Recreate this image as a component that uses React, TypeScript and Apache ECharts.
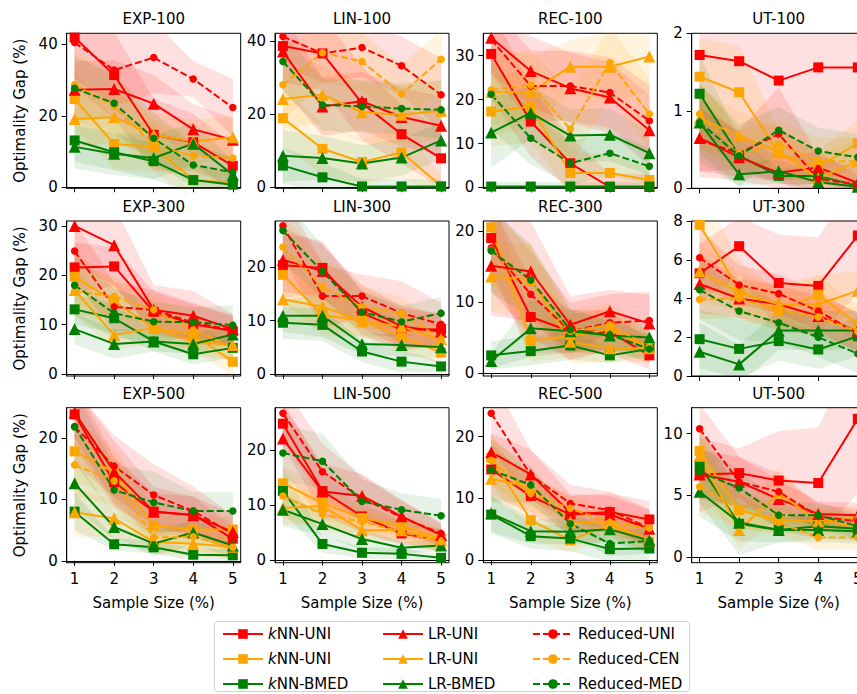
import React, { useEffect, useRef } from 'react';
import * as echarts from 'echarts';

const sampleSizes = [1, 2, 3, 4, 5];
const panelTitles = ['EXP-100', 'LIN-100', 'REC-100', 'UT-100', 'EXP-300', 'LIN-300', 'REC-300', 'UT-300', 'EXP-500', 'LIN-500', 'REC-500', 'UT-500'];
const seriesNames = ['kNN-UNI', 'kNN-CEN', 'kNN-BMED', 'LR-UNI', 'LR-CEN', 'LR-BMED', 'Reduced-UNI', 'Reduced-CEN', 'Reduced-MED'];
const legendLabels = ['{i|k}NN-UNI', '{i|k}NN-UNI', '{i|k}NN-BMED', 'LR-UNI', 'LR-UNI', 'LR-BMED', 'Reduced-UNI', 'Reduced-CEN', 'Reduced-MED'];

// series order: kNN-UNI, kNN-CEN, kNN-BMED, LR-UNI, LR-CEN, LR-BMED, Reduced-UNI, Reduced-CEN, Reduced-MED
const exp100Mean = [
  [41.9, 31.4, 14.7, 12.6, 6.0], [24.7, 12.1, 11.3, 2.0, 1.3], [13.1, 9.8, 7.3, 2.0, 0.7],
  [27.3, 27.5, 23.4, 16.2, 13.3], [19.1, 19.6, 14.7, 12.8, 14.0], [11.3, 9.4, 8.2, 12.2, 3.5],
  [40.5, 32.8, 36.3, 30.3, 22.3], [28.7, 22.6, 11.8, 8.8, 8.2], [27.7, 23.5, 13.7, 6.2, 4.2],
];
const lin100Mean = [
  [38.6, 36.6, 23.0, 14.5, 7.9], [18.9, 10.5, 6.9, 9.5, 0.3], [5.9, 2.7, 0.2, 0.2, 0.2],
  [37.1, 22.1, 23.5, 19.2, 16.8], [24.1, 25.3, 20.5, 19.8, 20.9], [8.6, 8.0, 6.5, 8.1, 12.8],
  [41.2, 36.6, 38.2, 33.2, 25.3], [28.0, 36.8, 34.4, 25.5, 35.0], [34.4, 22.5, 22.1, 21.5, 21.2],
];
const rec100Mean = [
  [30.4, 15.0, 5.5, 0.1, 0.1], [17.3, 18.4, 3.3, 3.3, 1.7], [0.2, 0.2, 0.2, 0.2, 0.2],
  [34.1, 26.5, 22.6, 20.5, 13.0], [21.8, 21.7, 27.5, 27.5, 29.8], [12.5, 17.0, 11.8, 12.0, 7.8],
  [33.7, 23.1, 23.1, 21.6, 15.2], [22.2, 23.3, 13.3, 28.4, 16.7], [21.2, 11.2, 5.5, 7.8, 4.8],
];
const ut100Mean = [
  [1.72, 1.64, 1.39, 1.56, 1.56], [1.44, 1.24, 0.45, 0.28, 0.58], [1.22, 0.42, 0.16, 0.16, 0.03],
  [0.65, 0.4, 0.2, 0.27, 0.07], [0.9, 0.68, 0.47, 0.13, 0.35], [0.85, 0.18, 0.22, 0.08, 0.02],
  [0.62, 0.45, 0.7, 0.12, 0.05], [0.96, 0.45, 0.57, 0.35, 0.35], [0.85, 0.42, 0.75, 0.48, 0.4],
];
const exp300Mean = [
  [21.6, 21.8, 12.6, 10.1, 8.7], [19.7, 14.7, 9.3, 8.0, 2.5], [13.1, 11.3, 6.6, 4.0, 5.3],
  [30.0, 26.1, 13.0, 11.8, 9.1], [17.0, 7.9, 9.3, 6.6, 5.9], [9.1, 6.1, 6.6, 6.1, 8.0],
  [24.9, 13.6, 13.0, 10.4, 8.9], [16.8, 15.7, 13.0, 8.9, 5.5], [18.0, 12.3, 10.6, 10.5, 9.9],
];
const lin300Mean = [
  [20.4, 19.9, 11.4, 8.3, 8.4], [18.6, 11.0, 10.0, 7.0, 4.0], [9.6, 9.2, 4.2, 2.3, 1.4],
  [21.4, 19.3, 12.6, 8.9, 7.9], [14.0, 12.6, 9.9, 8.9, 6.5], [10.9, 10.9, 5.6, 5.4, 5.0],
  [27.8, 14.6, 14.6, 11.4, 9.3], [23.8, 16.3, 12.6, 11.4, 6.5], [26.9, 19.2, 11.6, 9.8, 11.4],
];
const rec300Mean = [
  [19.0, 7.9, 5.9, 5.8, 2.5], [20.5, 4.6, 5.2, 6.2, 3.5], [2.5, 3.1, 3.9, 2.5, 3.4],
  [15.1, 14.3, 6.8, 8.7, 7.0], [13.6, 13.1, 4.4, 3.5, 3.5], [1.7, 6.3, 5.9, 5.3, 5.0],
  [17.6, 11.1, 5.9, 7.1, 7.4], [17.3, 13.0, 5.9, 6.8, 3.7], [17.2, 13.1, 6.1, 5.4, 3.4],
];
const ut300Mean = [
  [5.3, 6.7, 4.8, 4.65, 7.25], [7.8, 4.45, 3.35, 4.2, 2.65], [1.9, 1.4, 1.8, 1.37, 2.05],
  [4.75, 4.0, 3.7, 3.1, 2.3], [5.4, 4.3, 3.7, 3.7, 4.4], [1.25, 0.6, 2.35, 2.35, 2.35],
  [6.1, 4.7, 4.25, 3.35, 2.2], [3.95, 4.0, 3.4, 3.05, 2.3], [4.45, 3.35, 2.75, 2.0, 1.15],
];
const exp500Mean = [
  [23.8, 12.8, 8.0, 7.5, 3.6], [17.8, 14.4, 5.7, 5.1, 5.1], [8.0, 2.7, 2.2, 1.0, 0.9],
  [24.1, 14.5, 8.0, 7.4, 4.7], [7.9, 6.9, 3.1, 2.8, 2.3], [12.6, 5.5, 2.8, 4.6, 2.5],
  [21.8, 15.4, 10.7, 8.1, 4.4], [15.6, 13.0, 3.8, 3.9, 2.2], [21.8, 11.5, 9.5, 8.1, 8.1],
];
const lin500Mean = [
  [24.8, 12.6, 8.0, 4.9, 3.7], [14.0, 10.4, 7.7, 6.3, 3.9], [12.6, 3.0, 1.4, 1.2, 0.5],
  [22.1, 12.5, 11.7, 8.0, 4.6], [9.5, 9.9, 5.5, 5.5, 3.6], [9.2, 6.6, 3.9, 2.3, 2.7],
  [26.7, 16.1, 11.3, 7.8, 4.9], [11.7, 8.4, 7.0, 5.2, 3.4], [19.5, 18.0, 10.7, 9.2, 8.1],
];
const rec500Mean = [
  [14.7, 10.4, 7.4, 7.8, 6.6], [16.6, 6.5, 3.2, 5.8, 3.0], [7.4, 3.9, 3.5, 1.8, 1.9],
  [17.5, 13.9, 7.7, 7.4, 5.1], [13.2, 11.8, 6.2, 6.0, 3.2], [7.6, 4.7, 4.6, 5.0, 3.2],
  [23.8, 13.8, 9.2, 8.1, 5.2], [16.2, 10.8, 8.4, 6.1, 5.2], [14.6, 12.2, 5.9, 2.7, 3.1],
];
const ut500Mean = [
  [6.7, 6.8, 6.2, 6.0, 11.2], [8.6, 3.8, 3.0, 2.9, 2.5], [7.4, 2.7, 2.2, 2.5, 2.3],
  [6.7, 6.1, 4.7, 3.5, 3.4], [8.2, 2.2, 5.2, 2.9, 3.2], [5.3, 2.8, 2.2, 2.2, 2.1],
  [10.4, 6.1, 5.3, 3.3, 2.9], [5.7, 3.9, 2.8, 1.6, 1.6], [6.9, 5.6, 3.4, 3.4, 2.5],
];

// half-widths of the shaded bands (estimated)
const exp100Spread = [[14, 12, 10, 8, 6], [8, 7, 7, 5, 3], [6, 5, 5, 4, 3], [8, 8, 8, 7, 6], [8, 7, 6, 6, 6], [6, 6, 6, 6, 4], [10, 10, 10, 5, 8], [10, 8, 7, 6, 5], [9, 8, 7, 6, 4]];
const lin100Spread = [[10, 10, 10, 8, 8], [8, 7, 6, 7, 3], [5, 4, 2, 2, 2], [10, 8, 8, 8, 8], [8, 8, 8, 8, 8], [7, 6, 5, 5, 5], [8, 8, 8, 8, 10], [10, 8, 8, 8, 8], [8, 7, 7, 7, 8]];
const rec100Spread = [[10, 8, 6, 3, 3], [8, 8, 5, 4, 3], [1, 1, 1, 1, 1], [8, 8, 8, 8, 8], [10, 8, 6, 8, 8], [8, 6, 6, 6, 5], [8, 8, 8, 8, 8], [8, 8, 8, 8, 8], [8, 6, 5, 5, 4]];
const ut100Spread = [[1.5, 1.4, 1.3, 1.4, 1.5], [0.5, 0.6, 0.3, 0.2, 0.3], [0.5, 0.2, 0.1, 0.1, 0.05], [0.5, 0.3, 0.2, 0.2, 0.1], [0.4, 0.3, 0.3, 0.3, 0.3], [0.4, 0.15, 0.15, 0.1, 0.05], [0.4, 0.3, 0.6, 0.3, 0.2], [0.4, 0.3, 0.3, 0.3, 0.3], [0.5, 0.4, 0.3, 0.3, 0.3]];
const exp300Spread = [[5, 4, 4, 4, 3], [5, 4, 3, 3, 3], [3, 3, 2, 2, 2], [8, 8, 5, 5, 3], [5, 3, 3, 3, 3], [3, 3, 2, 2, 2], [6, 5, 4, 4, 3], [5, 4, 3, 3, 3], [6, 5, 4, 3, 4]];
const lin300Spread = [[6, 5, 4, 4, 3], [5, 4, 3, 3, 2], [3, 3, 2, 2, 1], [6, 5, 4, 4, 3], [4, 4, 3, 3, 2], [3, 4, 2, 2, 2], [6, 6, 4, 6, 4], [6, 5, 4, 3, 3], [6, 5, 4, 3, 3]];
const rec300Spread = [[5, 5, 3, 3, 2], [5, 3, 3, 3, 2], [2, 2, 2, 1, 1], [7, 7, 4, 3, 4], [5, 5, 3, 2, 2], [1, 4, 3, 2, 2], [6, 6, 4, 4, 4], [5, 5, 3, 3, 2], [6, 5, 3, 2, 2]];
const ut300Spread = [[1.5, 1.5, 2.5, 2.5, 3], [2, 1.5, 1, 1, 1], [1.5, 1.5, 1, 1, 1], [1.5, 1, 1, 1, 1], [1.5, 1, 1, 1.5, 1], [1.5, 1, 1, 1, 1], [1.5, 1, 1, 1, 1], [1, 1, 1, 1, 1], [1.5, 1.5, 1, 1, 1]];
const exp500Spread = [[5, 4, 3, 3, 2], [5, 4, 3, 2, 2], [3, 1, 1, 1, 1], [4, 5, 4, 3, 3], [4, 3, 2, 2, 2], [4, 2, 2, 2, 2], [6, 5, 5, 4, 3], [5, 4, 2, 2, 2], [6, 4, 5, 3, 3]];
const lin500Spread = [[4, 4, 3, 2, 2], [3, 3, 2, 2, 2], [4, 1.5, 1, 1, 0.5], [6, 5, 4, 3, 2], [3, 3, 2, 2, 2], [3, 2, 2, 1, 1], [5, 5, 4, 3, 2], [4, 3, 2, 2, 2], [5, 5, 4, 3, 3]];
const rec500Spread = [[4, 3, 3, 3, 3], [4, 3, 2, 2, 2], [3, 2, 2, 2, 2], [3, 4, 3, 3, 3], [4, 3, 2, 2, 2], [3, 2, 2, 2, 2], [6, 4, 3, 3, 3], [4, 3, 2, 2, 2], [5, 3, 2, 2, 2]];
const ut500Spread = [[3, 2, 4, 4.5, 6], [2, 1.5, 1, 1, 1], [3, 2.5, 1, 1, 1], [2, 2, 1.5, 1, 1], [2, 1.5, 2, 1, 1], [2, 1.5, 1, 1, 1], [2, 2, 1.5, 1, 1], [2, 1.5, 1, 1, 1], [2, 1.5, 1, 1, 1]];

const panelMeans = [exp100Mean, lin100Mean, rec100Mean, ut100Mean, exp300Mean, lin300Mean, rec300Mean, ut300Mean, exp500Mean, lin500Mean, rec500Mean, ut500Mean];
const panelSpreads = [exp100Spread, lin100Spread, rec100Spread, ut100Spread, exp300Spread, lin300Spread, rec300Spread, ut300Spread, exp500Spread, lin500Spread, rec500Spread, ut500Spread];

const yMins = [-0.3, -0.3, -0.2, 0, -0.4, -0.4, -0.4, 0, -0.3, -0.4, -0.4, -0.45];
const yMaxs = [43.1, 42.1, 35.1, 2, 31.0, 28.7, 21.4, 8, 24.9, 27.7, 24.7, 12.1];
const yTickValues = [[0, 20, 40], [0, 20, 40], [0, 10, 20, 30], [0, 1, 2], [0, 10, 20, 30], [0, 10, 20], [0, 10, 20], [0, 2, 4, 6, 8], [0, 10, 20], [0, 10, 20], [0, 10, 20], [0, 5, 10]];

const FONT = 'DejaVu Sans';
const colors = ['#ff0000', '#ffa500', '#008000'];
const symbols = ['rect', 'triangle', 'circle'];
const symbolSizes = [10, 12, 7.5];
const colLefts = [66.7, 275, 483.3, 691.7];
const rowTops = [33.3, 221, 407.7];
const PW = 174;
const PH = 155;

function buildOption() {
  const grid: any[] = [];
  const xAxis: any[] = [];
  const yAxis: any[] = [];
  const series: any[] = [];
  const graphic: any[] = [];

  panelTitles.forEach((title, p) => {
    const row = Math.floor(p / 4);
    const col = p % 4;
    grid.push({
      left: colLefts[col], top: rowTops[row], width: PW, height: PH,
      show: true, borderColor: '#000', borderWidth: 1, backgroundColor: 'transparent',
      containLabel: false, outerBoundsMode: 'none',
    });
    xAxis.push({
      type: 'value', gridIndex: p, min: 0.8, max: 5.2,
      axisLine: { show: true, lineStyle: { color: '#000', width: 1 } },
      axisTick: { show: true, length: 5, lineStyle: { color: '#000' }, customValues: sampleSizes },
      axisLabel: { show: row === 2, customValues: sampleSizes, color: '#000', fontSize: 15, fontFamily: FONT, margin: 9 },
      splitLine: { show: false },
      name: row === 2 ? 'Sample Size (%)' : '',
      nameLocation: 'middle', nameGap: 33,
      nameTextStyle: { color: '#000', fontSize: 15, fontFamily: FONT },
    });
    yAxis.push({
      type: 'value', gridIndex: p, min: yMins[p], max: yMaxs[p],
      axisLine: { show: true, lineStyle: { color: '#000', width: 1 } },
      axisTick: { show: true, length: 5, lineStyle: { color: '#000' }, customValues: yTickValues[p] },
      axisLabel: { customValues: yTickValues[p], color: '#000', fontSize: 15, fontFamily: FONT, margin: 9 },
      splitLine: { show: false },
      name: col === 0 ? 'Optimality Gap (%)' : '',
      nameLocation: 'middle', nameGap: 39,
      nameTextStyle: { color: '#000', fontSize: 15, fontFamily: FONT },
    });
    graphic.push({
      type: 'text', x: colLefts[col] + PW / 2, y: rowTops[row] - 14,
      style: { text: title, fill: '#000', font: `15px "${FONT}"`, textAlign: 'center', textVerticalAlign: 'middle' },
    });

    const means = panelMeans[p];
    const spreads = panelSpreads[p];
    // shaded bands (mean +/- spread), drawn through the axes' scales
    means.forEach((m, s) => {
      const color = colors[s % 3];
      const upper = m.map((v, k) => v + spreads[s][k]);
      const lower = m.map((v, k) => v - spreads[s][k]);
      series.push({
        type: 'custom', xAxisIndex: p, yAxisIndex: p, clip: true, silent: true, z: 1,
        data: [[3, m[2]]],
        renderItem: (params: any, api: any) => {
          const pts: number[][] = [];
          sampleSizes.forEach((x, k) => pts.push(api.coord([x, upper[k]])));
          for (let k = sampleSizes.length - 1; k >= 0; k--) pts.push(api.coord([sampleSizes[k], lower[k]]));
          return {
            type: 'polygon',
            shape: { points: pts },
            style: { fill: color, opacity: s % 3 === 2 ? 0.1 : 0.12, stroke: color, lineWidth: 1, strokeOpacity: 0.15 },
          };
        },
      });
    });
    // lines
    means.forEach((m, s) => {
      const color = colors[s % 3];
      const kind = Math.floor(s / 3);
      series.push({
        name: seriesNames[s], type: 'line', xAxisIndex: p, yAxisIndex: p,
        data: sampleSizes.map((x, k) => [x, m[k]]),
        symbol: symbols[kind], symbolSize: symbolSizes[kind], showSymbol: true,
        lineStyle: { color, width: 2, type: kind === 2 ? [7, 3] : 'solid' },
        itemStyle: { color, borderColor: color, borderWidth: 0 },
        z: 3, silent: true,
      });
    });
  });

  graphic.push({
    type: 'rect', shape: { x: 214.5, y: 621.5, width: 475, height: 70, r: 3 },
    style: { fill: '#fff', stroke: '#d0d0d0', lineWidth: 1 }, z: -1,
  });

  const legendLefts = [222, 382, 532];
  const legend = [0, 1, 2].map((c) => ({
    data: seriesNames.slice(c * 3, c * 3 + 3),
    orient: 'vertical', left: legendLefts[c], top: 626, padding: 0,
    itemWidth: 40, itemHeight: 12, itemGap: 9,
    selectedMode: false,
    formatter: (name: string) => legendLabels[seriesNames.indexOf(name)],
    textStyle: {
      color: '#000', fontSize: 15, fontFamily: FONT, lineHeight: 16,
      rich: { i: { fontStyle: 'italic', fontSize: 15, fontFamily: FONT, color: '#000' } },
    },
  }));

  return { animation: false, backgroundColor: '#fff', grid, xAxis, yAxis, series, graphic, legend };
}

export default function App() {
  const ref = useRef<HTMLDivElement>(null);
  useEffect(() => {
    if (!ref.current) return;
    const chart = echarts.init(ref.current, null, { renderer: 'svg' });
    chart.setOption(buildOption() as any);
    return () => chart.dispose();
  }, []);
  return <div ref={ref} style={{ position: 'absolute', left: 0, top: 0, width: 857, height: 694 }} />;
}
